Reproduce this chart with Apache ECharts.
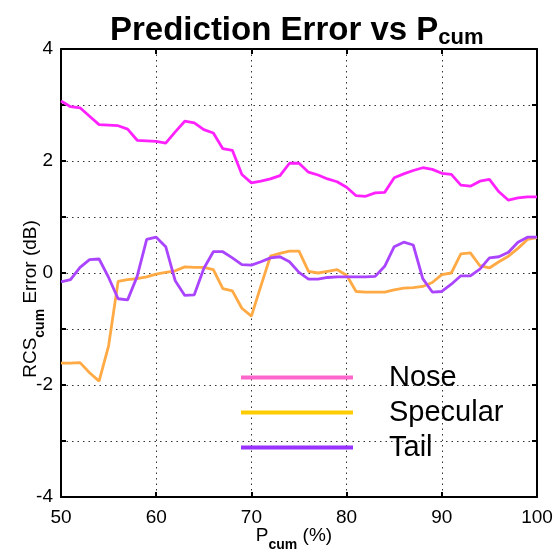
<!DOCTYPE html>
<html>
<head>
<meta charset="utf-8">
<script src="https://cdn.jsdelivr.net/npm/echarts@6/dist/echarts.min.js"></script>
<style>html,body{margin:0;padding:0;background:#fff}#c{width:553px;height:553px}</style>
</head>
<body>
<div id="c"></div>
<script>
const seriesNames = ['Nose', 'Specular', 'Tail'];
const xTicks = [50, 60, 70, 80, 90, 100];
const yTicks = [-4, -2, 0, 2, 4];
const noseData = [[50,3.07],[51,2.97],[52,2.95],[53,2.80],[54,2.65],[55,2.64],[56,2.63],[57,2.57],[58,2.37],[59,2.36],[60,2.35],[61,2.32],[62,2.52],[63,2.71],[64,2.68],[65,2.56],[66,2.50],[67,2.22],[68,2.19],[69,1.76],[70,1.61],[71,1.64],[72,1.68],[73,1.74],[74,1.96],[75,1.96],[76,1.80],[77,1.75],[78,1.68],[79,1.63],[80,1.53],[81,1.38],[82,1.37],[83,1.43],[84,1.44],[85,1.70],[86,1.77],[87,1.83],[88,1.88],[89,1.85],[90,1.78],[91,1.76],[92,1.57],[93,1.55],[94,1.64],[95,1.67],[96,1.45],[97,1.30],[98,1.34],[99,1.36],[100,1.36]];
const specularData = [[50,-1.61],[51,-1.61],[52,-1.60],[53,-1.78],[54,-1.93],[55,-1.30],[56,-0.15],[57,-0.12],[58,-0.10],[59,-0.07],[60,-0.02],[61,0.01],[62,0.04],[63,0.11],[64,0.10],[65,0.10],[66,0.06],[67,-0.28],[68,-0.32],[69,-0.63],[70,-0.77],[71,-0.23],[72,0.30],[73,0.35],[74,0.39],[75,0.39],[76,0.03],[77,0.0],[78,0.03],[79,0.06],[80,-0.04],[81,-0.33],[82,-0.34],[83,-0.34],[84,-0.34],[85,-0.30],[86,-0.27],[87,-0.26],[88,-0.24],[89,-0.17],[90,-0.03],[91,0.0],[92,0.34],[93,0.36],[94,0.13],[95,0.09],[96,0.20],[97,0.30],[98,0.44],[99,0.60],[100,0.63]];
const tailData = [[50,-0.16],[51,-0.12],[52,0.10],[53,0.24],[54,0.25],[55,-0.08],[56,-0.46],[57,-0.48],[58,-0.06],[59,0.60],[60,0.64],[61,0.47],[62,-0.14],[63,-0.40],[64,-0.39],[65,0.08],[66,0.38],[67,0.38],[68,0.27],[69,0.15],[70,0.14],[71,0.20],[72,0.27],[73,0.29],[74,0.20],[75,0.01],[76,-0.11],[77,-0.11],[78,-0.08],[79,-0.07],[80,-0.07],[81,-0.07],[82,-0.07],[83,-0.06],[84,0.12],[85,0.47],[86,0.55],[87,0.50],[88,-0.10],[89,-0.34],[90,-0.33],[91,-0.20],[92,-0.05],[93,-0.05],[94,0.07],[95,0.27],[96,0.29],[97,0.37],[98,0.55],[99,0.64],[100,0.64]];
const lineColors = ['#ff22ff', '#ffaa44', '#aa44ff'];
const legendColors = ['#ff66cc', '#ffcc00', '#9933ff'];

const FONT = 'Liberation Sans, Arial, sans-serif';
const chart = echarts.init(document.getElementById('c'), null, {renderer: 'canvas'});
const gridLine = {show: true, lineStyle: {color: '#333', type: [1.5, 4], width: 1}};
const axisLabelStyle = {color: '#000', fontSize: 19, fontFamily: FONT};
chart.setOption({
  animation: false,
  backgroundColor: '#fff',
  title: {
    text: '{m|Prediction Error vs P}{s|cum}',
    left: 110, top: 13, padding: 0,
    textStyle: {
      rich: {
        m: {fontSize: 33, fontWeight: 'bold', fontFamily: FONT, color: '#000'},
        s: {fontSize: 22, fontWeight: 'bold', fontFamily: FONT, color: '#000', padding: [14, 0, 0, 0]}
      }
    }
  },
  legend: {
    orient: 'vertical',
    left: 241, top: 363, padding: 0,
    itemWidth: 112, itemHeight: 4,
    itemGap: 6,
    icon: 'rect',
    textStyle: {fontSize: 29, fontFamily: FONT, color: '#000', padding: [0, 0, 0, 31], lineHeight: 29},
    data: seriesNames.map((n, i) => ({name: n, itemStyle: {color: legendColors[i]}}))
  },
  grid: {left: 61, right: 16, top: 49, bottom: 56, containLabel: false, outerBoundsMode: 'none'},
  xAxis: [{
    type: 'value', min: 50, max: 100, interval: 10,
    axisLine: {show: true, onZero: false, lineStyle: {color: '#000', width: 2}},
    axisTick: {show: true, inside: true, length: 5, lineStyle: {color: '#000', width: 2}},
    axisLabel: Object.assign({margin: 11, formatter: v => xTicks.includes(v) ? String(v) : ''}, axisLabelStyle),
    splitLine: gridLine,
    name: '{m|P}{s|cum}{m| (%)}',
    nameLocation: 'middle', nameGap: 23, nameMoveOverlap: false,
    nameTextStyle: {padding: [0, 10, 0, 0], rich: {
      m: {fontSize: 19, fontFamily: FONT, color: '#000'},
      s: {fontSize: 14, fontWeight: 'bold', fontFamily: FONT, color: '#000', padding: [18, 0, 0, 0]}
    }}
  }, {
    type: 'value', position: 'top', min: 50, max: 100, interval: 10,
    axisLine: {show: true, onZero: false, lineStyle: {color: '#000', width: 2}},
    axisTick: {show: true, inside: true, length: 5, lineStyle: {color: '#000', width: 2}},
    axisLabel: {show: false}, splitLine: {show: false}
  }],
  yAxis: [{
    type: 'value', min: -4, max: 4, interval: 1,
    axisLine: {show: true, onZero: false, lineStyle: {color: '#000', width: 2}},
    axisTick: {show: true, inside: true, length: 5, lineStyle: {color: '#000', width: 2}},
    axisLabel: Object.assign({margin: 8, formatter: v => yTicks.includes(v) ? String(v) : ''}, axisLabelStyle),
    splitLine: gridLine,
    name: '{m|RCS}{s|cum}{m| Error (dB)}',
    nameLocation: 'middle', nameGap: 14, nameRotate: 90, nameMoveOverlap: false,
    nameTextStyle: {padding: [0, 52, 0, 0], rich: {
      m: {fontSize: 19, fontFamily: FONT, color: '#000'},
      s: {fontSize: 14, fontWeight: 'bold', fontFamily: FONT, color: '#000', padding: [18, 0, 0, 0]}
    }}
  }, {
    type: 'value', position: 'right', min: -4, max: 4, interval: 1,
    axisLine: {show: true, onZero: false, lineStyle: {color: '#000', width: 2}},
    axisTick: {show: true, inside: true, length: 5, lineStyle: {color: '#000', width: 2}},
    axisLabel: {show: false}, splitLine: {show: false}
  }],
  series: [noseData, specularData, tailData].map((d, i) => ({
    name: seriesNames[i], type: 'line', data: d, showSymbol: false, symbol: 'none',
    xAxisIndex: 0, yAxisIndex: 0,
    lineStyle: {color: lineColors[i], width: 2.8}, itemStyle: {color: legendColors[i]}
  }))
});
</script>
</body>
</html>
